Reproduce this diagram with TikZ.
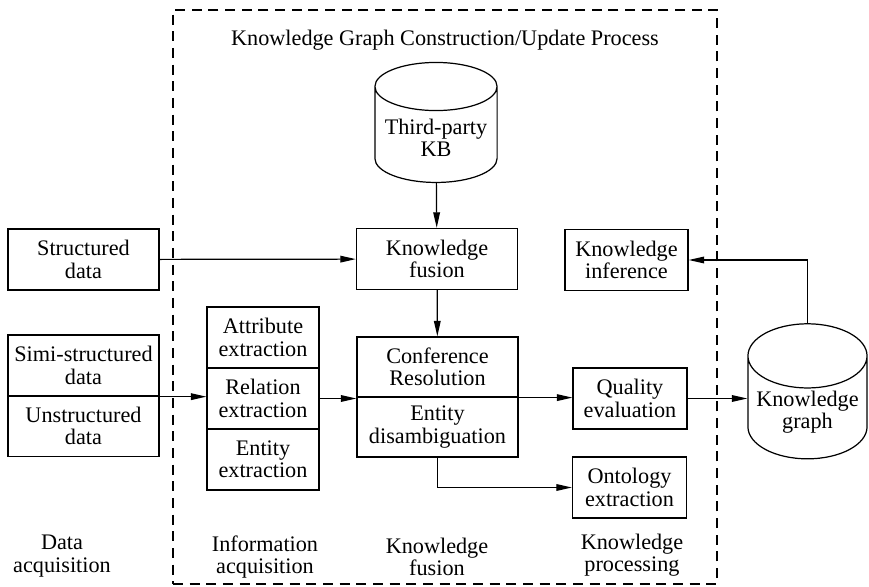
\documentclass[tikz,border=0pt]{standalone}
\usepackage{fontspec}
\setmainfont{Liberation Serif}
\usetikzlibrary{shapes.geometric,arrows.meta}

\begin{document}
\begin{tikzpicture}[x=0.45pt,y=-0.45pt,font=\rmfamily\fontsize{10}{10}\selectfont,line width=0.55pt,
    block/.style={draw, align=center, inner sep=1pt, minimum height=27.5pt},
    store/.style={draw, cylinder, shape border rotate=90, aspect=0.45, align=center, inner sep=1pt},
    frame/.style={draw, dash pattern=on 4.5pt off 3pt},
    tip/.style={-{Triangle[length=7pt,width=3pt]}}]
                    \useasboundingbox (0,0) rectangle (869,587);
                    \node[frame, minimum width=244.8pt, minimum height=258.3pt] (process) at (445,297) {};
                    \node[] (title) at (445,40) {Knowledge Graph Construction/Update Process};
                    \node[store, minimum width=55pt, minimum height=54pt] (kb) at (436,138) {Third-party\\KB};
                    \node[block, minimum width=72.5pt] (kfusion) at (437,259) {Knowledge\\fusion};
                    \draw[tip] (kb) -- (kfusion);
                    \node[block, minimum width=68pt] (structured) at (83.5,259.5) {Structured\\data};
                    \draw[tip] (structured) -- (kfusion);
                    \node[block, minimum width=68pt] (simi) at (83.5,365.5) {Simi-structured\\data};
                    \node[block, minimum width=68pt] (unstr) at (83.5,426) {Unstructured\\data};
                    \node[block, minimum width=50.4pt] (attr) at (263,337.5) {Attribute\\extraction};
                    \node[block, minimum width=50.4pt] (rel) at (263,398.5) {Relation\\extraction};
                    \node[block, minimum width=50.4pt] (ent) at (263,459.5) {Entity\\extraction};
                    \draw[tip] (simi.south east) -- (simi.south east -| rel.west);
                    \node[block, minimum width=72.5pt, minimum height=27pt] (conf) at (437.5,367) {Conference\\Resolution};
                    \node[block, minimum width=72.5pt, minimum height=27pt] (disamb) at (437.5,427) {Entity\\disambiguation};
                    \draw[tip] (kfusion) -- (conf);
                    \draw[tip] (rel.east) -- (rel.east -| conf.west);
                    \node[block, minimum width=55.4pt] (kinfer) at (626.5,260) {Knowledge\\inference};
                    \node[block, minimum width=51.3pt] (quality) at (630,398.5) {Quality\\evaluation};
                    \node[block, minimum width=51.3pt] (onto) at (629.5,487.5) {Ontology\\extraction};
                    \draw[tip] (conf.south east) -- (conf.south east -| quality.west);
                    \draw[tip] (disamb.south) |- (onto.west);
                    \node[store, aspect=0.6, minimum width=53.6pt, minimum height=53pt] (kg) at (807.5,412) {Knowledge\\graph};
                    \draw[tip] (quality.east) -- (quality.east -| kg.west);
                    \draw[tip] (kg.north) |- (kinfer.east);

                    \node[align=center] (lacq) at (62,556) {Data\\acquisition};
                    \node[align=center] (linfo) at (265,557) {Information\\acquisition};
                    \node[align=center] (lfusion) at (437,557) {Knowledge\\fusion};
                    \node[align=center] (lproc) at (632,555) {Knowledge\\processing};
                \end{tikzpicture}
\end{document}
